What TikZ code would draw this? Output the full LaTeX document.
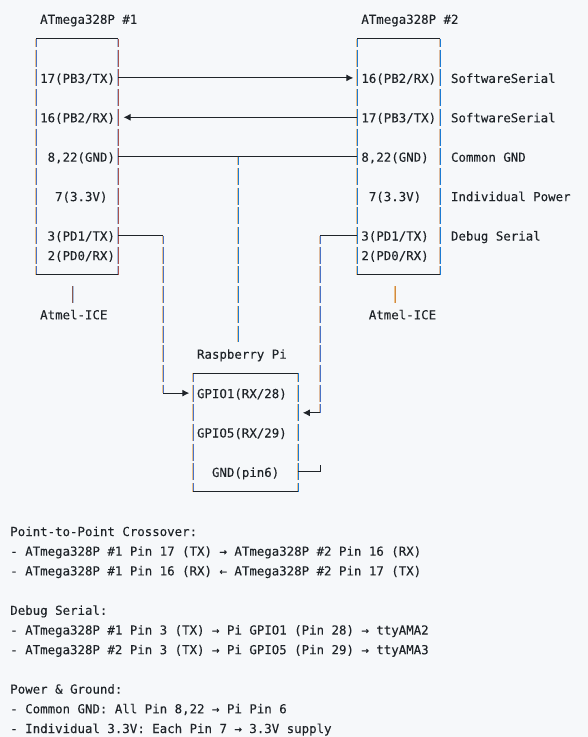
\documentclass[tikz,border=0pt]{standalone}
\usepackage{fontspec}
\setmainfont{DejaVu Sans Mono}[FakeStretch=1.0]
\usetikzlibrary{arrows.meta}
\definecolor{bg}{HTML}{F6F8FA}
\definecolor{ink}{HTML}{1F2429}
\definecolor{orng}{HTML}{EDC28A}
\definecolor{tan}{HTML}{DDBB9E}
\definecolor{dblue}{HTML}{4A72C4}
\definecolor{bblue}{HTML}{1C7AD2}
\definecolor{rbrown}{HTML}{A8524E}
\definecolor{gblue}{HTML}{A8BEDC}
\definecolor{sbrown}{HTML}{8A5A50}
\definecolor{sorng}{HTML}{D08A40}
\tikzset{
  lbl/.style={anchor=base west,inner sep=0pt,outer sep=0pt,text=ink,font=\fontsize{12.41pt}{14pt}\selectfont\addfontfeature{FakeBold=0.12},yshift=-5pt,xshift=.3pt},
  wire/.style={draw=ink,line width=1pt},
  tipped/.style={wire,-{Latex[length=7pt,width=7pt]}},
  barline/.style={line width=1pt,dash pattern=on 17pt off 2.7pt,dash phase=8.5pt},
}
\newcommand{\twotone}[4]{%
  \draw[barline,#3,transform canvas={xshift=-.5pt}] (#1) -- (#2);
  \draw[barline,#4,transform canvas={xshift=.5pt}] (#1) -- (#2);}
\begin{document}
\begin{tikzpicture}[x=7.47pt,y=-19.7pt]
\useasboundingbox[fill=bg] (0pt,0pt) rectangle (588pt,-737pt);
\begin{scope}[shift={(10pt,-38.5pt)}]
% titles
\node[lbl] (t1) at (4,-1) {ATmega328P \#1};
\node[lbl] (t2) at (47,-1) {ATmega328P \#2};
\node[lbl] (t3) at (25,16) {Raspberry Pi};
% box 1 pins
\node[lbl] (a17) at (4,2) {17(PB3/TX)};
\node[lbl] (a16) at (4,4) {16(PB2/RX)};
\node[lbl] (a8) at (5,6) {8,22(GND)};
\node[lbl] (a7) at (6,8) {7(3.3V)};
\node[lbl] (a3) at (5,10) {3(PD1/TX)};
\node[lbl] (a2) at (5,11) {2(PD0/RX)};
\node[lbl] (aice) at (4,14) {Atmel-ICE};
% box 2 pins
\node[lbl] (b16) at (47,2) {16(PB2/RX)};
\node[lbl] (b17) at (47,4) {17(PB3/TX)};
\node[lbl] (b8) at (47,6) {8,22(GND)};
\node[lbl] (b7) at (48,8) {7(3.3V)};
\node[lbl] (b3) at (47,10) {3(PD1/TX)};
\node[lbl] (b2) at (47,11) {2(PD0/RX)};
\node[lbl] (bice) at (48,14) {Atmel-ICE};
% right notes
\node[lbl] (n1) at (59,2) {SoftwareSerial};
\node[lbl] (n2) at (59,4) {SoftwareSerial};
\node[lbl] (n3) at (59,6) {Common GND};
\node[lbl] (n4) at (59,8) {Individual Power};
\node[lbl] (n5) at (59,10) {Debug Serial};
% pi pins
\node[lbl] (g1) at (25,18) {GPIO1(RX/28)};
\node[lbl] (g5) at (25,20) {GPIO5(RX/29)};
\node[lbl] (gg) at (27,22) {GND(pin6)};
% notes
\node[lbl] (h1) at (0,25) {Point-to-Point Crossover:};
\node[lbl] (l1) at (0,26) {- ATmega328P \#1 Pin 17 (TX) → ATmega328P \#2 Pin 16 (RX)};
\node[lbl] (l2) at (0,27) {- ATmega328P \#1 Pin 16 (RX) ← ATmega328P \#2 Pin 17 (TX)};
\node[lbl] (h2) at (0,29) {Debug Serial:};
\node[lbl] (l3) at (0,30) {- ATmega328P \#1 Pin 3 (TX) → Pi GPIO1 (Pin 28) → ttyAMA2};
\node[lbl] (l4) at (0,31) {- ATmega328P \#2 Pin 3 (TX) → Pi GPIO5 (Pin 29) → ttyAMA3};
\node[lbl] (h3) at (0,33) {Power \& Ground:};
\node[lbl] (l5) at (0,34) {- Common GND: All Pin 8,22 → Pi Pin 6};
\node[lbl] (l6) at (0,35) {- Individual 3.3V: Each Pin 7 → 3.3V supply};
% corner coordinates
\coordinate (A1) at (3.5,0);  \coordinate (A2) at (14.5,0);
\coordinate (A3) at (3.5,12); \coordinate (A4) at (14.5,12);
\coordinate (B1) at (46.5,0);  \coordinate (B2) at (57.5,0);
\coordinate (B3) at (46.5,12); \coordinate (B4) at (57.5,12);
\coordinate (P1) at (24.5,17); \coordinate (P2) at (38.5,17);
\coordinate (P3) at (24.5,23); \coordinate (P4) at (38.5,23);
% box outlines
\twotone{A1}{A3}{orng}{dblue}
\twotone{A2}{A4}{gblue}{rbrown}
\twotone{B1}{B3}{orng}{bblue}
\twotone{B2}{B4}{tan}{bblue}
\twotone{P1}{P3}{orng}{dblue}
\twotone{P2}{P4}{orng}{bblue}
\draw[wire] (A1) -- (A2) (A3) -- (A4);
\draw[wire] (B1) -- (B2) (B3) -- (B4);
\draw[wire] (P1) -- (P2) (P3) -- (P4);
% connection points
\coordinate (a17e) at (14.5,2);
\coordinate (b16w) at (45.96,2);
\coordinate (a16e) at (15.2,4);
\coordinate (b17w) at (46.5,4);
\coordinate (a8e) at (14.5,6);
\coordinate (b8w) at (46.5,6);
\coordinate (gndT) at (30.5,6);
\coordinate (gndB) at (30.5,15.43);
\coordinate (a3e) at (14.5,10);
\coordinate (c1) at (20.5,10);
\coordinate (c2) at (20.5,18);
\coordinate (g1w) at (24,18);
\coordinate (b3w) at (46.5,10);
\coordinate (d1) at (41.5,10);
\coordinate (d2) at (41.5,19);
\coordinate (g5e) at (39.2,19);
\coordinate (gge) at (38.5,22);
\coordinate (e1) at (41.5,22);
\coordinate (e2) at (41.5,21.67);
\coordinate (iA1) at (8.5,12.57);
\coordinate (iA2) at (8.5,13.43);
\coordinate (iB1) at (51.5,12.57);
\coordinate (iB2) at (51.5,13.43);
% wires
\draw[tipped] (a17e) -- (b16w);
\draw[tipped] (b17w) -- (a16e);
\draw[wire] (a8e) -- (b8w);
\twotone{gndT}{gndB}{orng}{bblue}
\twotone{c1}{c2}{orng}{dblue}
\twotone{d1}{d2}{tan}{dblue}
\draw[wire] (a3e) -- (c1);
\draw[tipped] (c2) -- (g1w);
\draw[wire] (b3w) -- (d1);
\draw[tipped] (d2) -- (g5e);
\draw[wire] (gge) -- (e1) -- (e2);
% ICE stubs
\draw[line width=1pt,sbrown,transform canvas={xshift=-.5pt}] (iA1) -- (iA2);
\draw[line width=1pt,gblue,transform canvas={xshift=.5pt}] (iA1) -- (iA2);
\draw[line width=1pt,orng,transform canvas={xshift=-.5pt}] (iB1) -- (iB2);
\draw[line width=1pt,sorng,transform canvas={xshift=.5pt}] (iB1) -- (iB2);
\end{scope}
\end{tikzpicture}
\end{document}
